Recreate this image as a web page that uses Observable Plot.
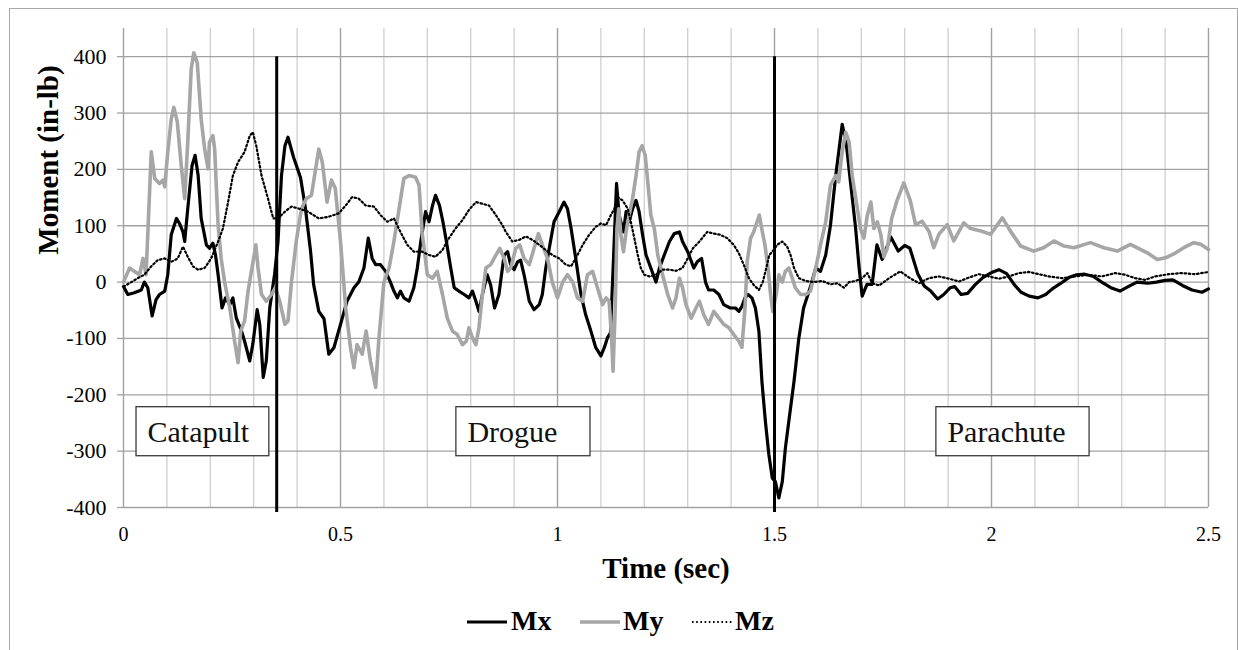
<!DOCTYPE html>
<html>
<head>
<meta charset="utf-8">
<script src="https://cdn.jsdelivr.net/npm/d3@7"></script>
<script src="https://cdn.jsdelivr.net/npm/@observablehq/plot@0.6"></script>
<style>
  html, body { margin: 0; padding: 0; background: #fff; }
  #wrap { position: relative; width: 1238px; height: 650px; overflow: hidden; font-family: "Liberation Serif", "Times New Roman", serif; }
  #border { position: absolute; left: 9px; top: 8px; width: 1229px; height: 700px; box-sizing: border-box; border: 1px solid #a8a8a8; }
  #chart { position: absolute; left: 0; top: 0; }
  .leg { position: absolute; top: 603px; font-weight: bold; font-size: 28px; color: #000; line-height: 36px; white-space: nowrap; }
  .sw { position: absolute; }
</style>
</head>
<body>
<div id="wrap">
  <div id="border"></div>
  <div id="chart"></div>
  <div id="legend"></div>
</div>
<script>
// ---- data: [time (sec), moment (in-lb)] ----
const mx = [[0,-8],[0.010,-22],[0.025,-19],[0.041,-14],[0.048,0],[0.056,-10],[0.066,-60],[0.075,-31],[0.083,-22],[0.095,-16],[0.102,13],[0.110,84],[0.122,113],[0.129,104],[0.137,89],[0.141,72],[0.148,130],[0.158,207],[0.165,225],[0.172,189],[0.179,113],[0.191,66],[0.198,60],[0.206,69],[0.212,48],[0.218,13],[0.227,-46],[0.235,-28],[0.245,-40],[0.252,-28],[0.260,-64],[0.272,-87],[0.279,-105],[0.291,-140],[0.298,-110],[0.308,-49],[0.314,-75],[0.322,-169],[0.329,-140],[0.337,-46],[0.348,13],[0.356,72],[0.364,189],[0.372,242],[0.379,257],[0.392,221],[0.408,185],[0.419,132],[0.431,55],[0.438,-4],[0.45,-52],[0.462,-65],[0.473,-128],[0.485,-116],[0.5,-75],[0.515,-34],[0.531,-10],[0.542,0],[0.554,25],[0.564,78],[0.573,42],[0.581,31],[0.592,31],[0.604,19],[0.615,0],[0.623,-16],[0.631,-28],[0.638,-16],[0.646,-28],[0.658,-34],[0.669,-10],[0.677,25],[0.685,72],[0.696,125],[0.704,107],[0.712,136],[0.719,154],[0.728,136],[0.736,107],[0.744,72],[0.754,25],[0.762,-10],[0.773,-16],[0.785,-22],[0.796,-28],[0.804,-16],[0.812,-34],[0.819,-52],[0.827,-22],[0.838,13],[0.846,-5],[0.855,-46],[0.865,-22],[0.877,48],[0.885,54],[0.892,31],[0.9,22],[0.908,36],[0.915,39],[0.923,13],[0.935,-34],[0.946,-49],[0.958,-40],[0.965,-22],[0.973,25],[0.981,60],[0.992,107],[1.004,125],[1.015,142],[1.023,130],[1.031,97],[1.042,42],[1.054,-22],[1.065,-58],[1.077,-87],[1.088,-116],[1.1,-131],[1.108,-116],[1.115,-99],[1.122,-90],[1.13,60],[1.136,175],[1.142,119],[1.152,89],[1.158,125],[1.165,107],[1.173,130],[1.181,145],[1.188,125],[1.196,84],[1.204,48],[1.215,25],[1.227,0],[1.235,25],[1.246,48],[1.258,72],[1.269,86],[1.281,89],[1.288,72],[1.3,54],[1.314,25],[1.322,36],[1.332,42],[1.341,0],[1.348,-14],[1.36,-14],[1.372,-22],[1.383,-40],[1.398,-46],[1.41,-46],[1.418,-52],[1.425,-43],[1.432,-28],[1.439,-22],[1.448,-28],[1.456,-46],[1.464,-87],[1.471,-176],[1.479,-247],[1.487,-306],[1.495,-348],[1.502,-354],[1.51,-383],[1.518,-354],[1.525,-295],[1.533,-247],[1.545,-176],[1.556,-100],[1.567,-46],[1.583,-8],[1.595,25],[1.606,19],[1.618,48],[1.629,101],[1.641,189],[1.648,231],[1.656,280],[1.665,248],[1.675,178],[1.687,95],[1.695,25],[1.702,-25],[1.713,-4],[1.725,-4],[1.736,66],[1.748,40],[1.758,60],[1.768,80],[1.785,55],[1.8,65],[1.812,60],[1.83,15],[1.845,-7],[1.86,-16],[1.876,-30],[1.89,-22],[1.905,-10],[1.915,-8],[1.93,-22],[1.945,-20],[1.962,-5],[1.98,8],[2.0,17],[2.017,22],[2.035,15],[2.052,-4],[2.068,-18],[2.087,-25],[2.107,-28],[2.125,-22],[2.14,-12],[2.16,-2],[2.178,8],[2.196,13],[2.215,14],[2.235,10],[2.254,0],[2.275,-10],[2.296,-16],[2.315,-8],[2.335,0],[2.36,-2],[2.38,0],[2.4,3],[2.418,4],[2.44,-6],[2.462,-14],[2.485,-18],[2.5,-12]];

const my = [[0,0],[0.014,25],[0.025,19],[0.037,13],[0.045,42],[0.052,13],[0.064,231],[0.072,184],[0.083,175],[0.091,181],[0.095,169],[0.102,231],[0.110,289],[0.116,310],[0.124,284],[0.133,207],[0.141,148],[0.148,248],[0.156,378],[0.162,407],[0.170,389],[0.179,289],[0.187,236],[0.195,201],[0.198,248],[0.206,260],[0.210,236],[0.218,101],[0.225,42],[0.233,0],[0.245,-46],[0.256,-105],[0.264,-143],[0.270,-87],[0.279,-69],[0.287,-16],[0.296,25],[0.305,66],[0.310,25],[0.318,-22],[0.329,-34],[0.341,-22],[0.35,-10],[0.36,-34],[0.372,-75],[0.379,-69],[0.387,0],[0.398,72],[0.41,130],[0.421,148],[0.433,154],[0.438,178],[0.45,236],[0.458,213],[0.469,142],[0.479,181],[0.488,166],[0.5,72],[0.512,-46],[0.523,-116],[0.531,-152],[0.538,-111],[0.55,-128],[0.559,-87],[0.569,-140],[0.581,-187],[0.588,-105],[0.6,0],[0.612,25],[0.623,72],[0.635,130],[0.646,184],[0.658,189],[0.673,186],[0.681,172],[0.688,89],[0.7,13],[0.712,7],[0.723,19],[0.735,-22],[0.746,-64],[0.758,-87],[0.769,-93],[0.781,-111],[0.79,-105],[0.796,-81],[0.804,-99],[0.812,-111],[0.819,-81],[0.827,-22],[0.835,25],[0.846,31],[0.858,48],[0.867,60],[0.877,42],[0.885,19],[0.892,25],[0.904,60],[0.913,66],[0.923,42],[0.935,31],[0.946,60],[0.956,86],[0.965,66],[0.977,42],[0.988,0],[1.0,-28],[1.012,0],[1.023,13],[1.035,0],[1.046,-28],[1.058,-34],[1.069,13],[1.081,19],[1.092,-10],[1.104,-40],[1.112,-28],[1.119,-34],[1.125,-105],[1.128,-158],[1.133,-46],[1.137,95],[1.141,130],[1.146,84],[1.152,54],[1.158,89],[1.165,119],[1.173,148],[1.181,189],[1.188,231],[1.195,242],[1.202,225],[1.208,178],[1.215,119],[1.223,95],[1.231,48],[1.242,13],[1.254,-22],[1.265,-46],[1.273,-28],[1.281,7],[1.288,-10],[1.296,-40],[1.308,-64],[1.319,-46],[1.327,-34],[1.337,-58],[1.348,-75],[1.36,-52],[1.372,-64],[1.383,-75],[1.395,-81],[1.406,-93],[1.418,-105],[1.425,-116],[1.432,-46],[1.437,36],[1.445,78],[1.452,89],[1.46,107],[1.465,119],[1.472,89],[1.478,66],[1.485,25],[1.491,-22],[1.496,-52],[1.504,-22],[1.51,13],[1.518,0],[1.525,19],[1.533,25],[1.541,7],[1.548,-10],[1.56,-22],[1.572,-22],[1.583,-16],[1.595,25],[1.606,66],[1.618,107],[1.629,172],[1.641,189],[1.648,178],[1.656,231],[1.664,266],[1.672,248],[1.679,189],[1.691,130],[1.698,95],[1.706,78],[1.714,119],[1.722,142],[1.729,95],[1.737,107],[1.745,84],[1.752,45],[1.76,60],[1.77,113],[1.782,144],[1.798,176],[1.813,144],[1.825,102],[1.84,108],[1.856,90],[1.867,61],[1.879,85],[1.898,102],[1.913,73],[1.936,105],[1.952,95],[1.978,90],[1.998,85],[2.025,114],[2.044,90],[2.067,64],[2.097,55],[2.12,61],[2.144,73],[2.167,64],[2.19,61],[2.228,70],[2.259,61],[2.29,55],[2.32,67],[2.359,52],[2.382,40],[2.401,43],[2.42,50],[2.443,61],[2.466,70],[2.482,67],[2.5,58]];

const mz = [[0,-8],[0.018,0],[0.033,7],[0.048,13],[0.064,28],[0.079,39],[0.095,42],[0.110,36],[0.125,42],[0.137,63],[0.148,45],[0.160,28],[0.172,22],[0.187,25],[0.202,42],[0.218,72],[0.229,95],[0.241,142],[0.252,189],[0.264,213],[0.279,231],[0.291,260],[0.298,266],[0.306,242],[0.318,189],[0.333,148],[0.345,113],[0.356,113],[0.372,125],[0.387,134],[0.406,130],[0.425,125],[0.45,113],[0.473,116],[0.496,122],[0.512,136],[0.527,151],[0.542,148],[0.558,136],[0.577,134],[0.592,119],[0.608,107],[0.623,113],[0.638,89],[0.654,66],[0.669,54],[0.688,54],[0.704,48],[0.719,45],[0.735,57],[0.75,78],[0.765,95],[0.781,110],[0.796,128],[0.812,142],[0.827,139],[0.842,136],[0.858,119],[0.873,101],[0.881,89],[0.896,72],[0.912,75],[0.927,81],[0.942,75],[0.958,66],[0.973,57],[0.988,48],[1.004,42],[1.019,31],[1.031,28],[1.042,42],[1.058,66],[1.073,84],[1.088,98],[1.1,104],[1.112,101],[1.123,119],[1.131,130],[1.138,151],[1.15,145],[1.162,130],[1.169,107],[1.177,78],[1.185,48],[1.192,25],[1.2,13],[1.212,10],[1.227,13],[1.242,22],[1.258,22],[1.273,20],[1.288,25],[1.3,42],[1.312,60],[1.327,72],[1.345,89],[1.36,86],[1.375,84],[1.391,78],[1.406,66],[1.418,51],[1.429,31],[1.441,7],[1.452,-5],[1.464,-14],[1.473,0],[1.481,25],[1.488,48],[1.498,57],[1.506,66],[1.518,72],[1.529,63],[1.537,48],[1.545,25],[1.556,7],[1.572,2],[1.591,0],[1.61,2],[1.629,-4],[1.645,-2],[1.66,-10],[1.672,0],[1.687,2],[1.702,7],[1.714,16],[1.725,-2],[1.741,-6],[1.764,7],[1.79,19],[1.81,8],[1.833,-2],[1.856,7],[1.879,10],[1.902,6],[1.925,1],[1.948,8],[1.971,14],[1.994,10],[2.017,6],[2.04,10],[2.063,16],[2.086,18],[2.109,14],[2.132,10],[2.162,7],[2.192,10],[2.223,13],[2.254,10],[2.285,16],[2.308,13],[2.331,7],[2.354,4],[2.377,10],[2.408,14],[2.438,16],[2.469,14],[2.5,18]];

const phaseTimes = [0.353, 1.5];           // phase-change markers (sec)
const phaseLabels = ["Catapult", "Drogue", "Parachute"];
const phaseBoxX1 = [0.030, 0.767, 1.873];
const phaseBoxX2 = [0.336, 1.076, 2.226];
const xTickLabels = [0, 0.5, 1, 1.5, 2, 2.5];
const yTickLabels = [-400, -300, -200, -100, 0, 100, 200, 300, 400];
const seriesNames = ["Mx", "My", "Mz"];

// ---- build ----
const toRows = arr => arr.map(([t, v]) => ({t, v}));
const minorX = d3.range(0, 26).map(i => i / 10);
const majorX = minorX.filter((d, i) => i % 5 === 0);
const boxes = phaseLabels.map((label, i) => ({label, x1: phaseBoxX1[i], x2: phaseBoxX2[i]}));

const chart = Plot.plot({
  width: 1238,
  height: 590,
  marginLeft: 123,
  marginRight: 30,
  marginTop: 28,
  marginBottom: 83,
  style: {fontFamily: "'Liberation Serif', 'Times New Roman', serif", background: "transparent", color: "#000", overflow: "visible"},
  x: {domain: [0, 2.5]},
  y: {domain: [-400, 450]},
  marks: [
    Plot.ruleX(minorX, {y1: -400, y2: 450, stroke: "#cfcfcf", strokeWidth: 1.3}),
    Plot.ruleX(majorX, {y1: -400, y2: 450, stroke: "#a2a2a2", strokeWidth: 1.3}),
    Plot.ruleY(yTickLabels, {x1: 0, x2: 2.5, stroke: "#a2a2a2", strokeWidth: 1.3}),
    Plot.axisY({ticks: yTickLabels, tickFormat: d => String(d), tickSize: 6, tickPadding: 11, fontSize: 22, stroke: "#a2a2a2", strokeWidth: 1.3, label: null}),
    Plot.axisX({ticks: xTickLabels, tickFormat: d => String(d), tickSize: 0, tickPadding: 19, fontSize: 20, label: null}),
    Plot.line(toRows(mx), {x: "t", y: "v", stroke: "#000", strokeWidth: 3.2, strokeLinejoin: "round"}),
    Plot.line(toRows(my), {x: "t", y: "v", stroke: "#a6a6a6", strokeWidth: 3.6, strokeLinejoin: "round"}),
    Plot.line(toRows(mz), {x: "t", y: "v", stroke: "#000", strokeWidth: 2.2, strokeDasharray: "1.6 2.6"}),
    Plot.ruleX(phaseTimes, {y1: 400, y2: -409, stroke: "#000", strokeWidth: 3}),
    Plot.rect(boxes, {x1: "x1", x2: "x2", y1: -222, y2: -309, fill: "#fff", stroke: "#3a3a3a", strokeWidth: 1.3}),
    Plot.text(boxes, {x: d => d.x1, y: -284, text: "label", dx: 11, textAnchor: "start", lineAnchor: "bottom", fontSize: 30, fill: "#111"}),
    Plot.text(["Time (sec)"], {frameAnchor: "bottom", dy: 70, textAnchor: "middle", lineAnchor: "bottom", fontSize: 29, fontWeight: "bold", fill: "#000"}),
    Plot.text(["Moment (in-lb)"], {frameAnchor: "left", dx: -75, dy: -108, rotate: -90, textAnchor: "middle", lineAnchor: "middle", fontSize: 29, fontWeight: "bold", fill: "#000"})
  ]
});
document.getElementById("chart").appendChild(chart);

// ---- legend ----
const legendStyles = [
  {stroke: "#000", width: 3.2, dash: null, lineX: 467, textX: 511},
  {stroke: "#a6a6a6", width: 3.6, dash: null, lineX: 580, textX: 623},
  {stroke: "#000", width: 2.2, dash: "1.6 2.6", lineX: 692, textX: 735}
];
const legend = document.getElementById("legend");
seriesNames.forEach((name, i) => {
  const s = legendStyles[i];
  const sw = document.createElementNS("http://www.w3.org/2000/svg", "svg");
  sw.setAttribute("class", "sw");
  sw.setAttribute("width", 40); sw.setAttribute("height", 10);
  sw.style.left = s.lineX + "px"; sw.style.top = "617px";
  const ln = document.createElementNS("http://www.w3.org/2000/svg", "line");
  ln.setAttribute("x1", 0); ln.setAttribute("x2", 40); ln.setAttribute("y1", 5); ln.setAttribute("y2", 5);
  ln.setAttribute("stroke", s.stroke); ln.setAttribute("stroke-width", s.width);
  if (s.dash) ln.setAttribute("stroke-dasharray", s.dash);
  sw.appendChild(ln);
  legend.appendChild(sw);
  const tx = document.createElement("div");
  tx.className = "leg";
  tx.style.left = s.textX + "px";
  tx.textContent = name;
  legend.appendChild(tx);
});
</script>
</body>
</html>
